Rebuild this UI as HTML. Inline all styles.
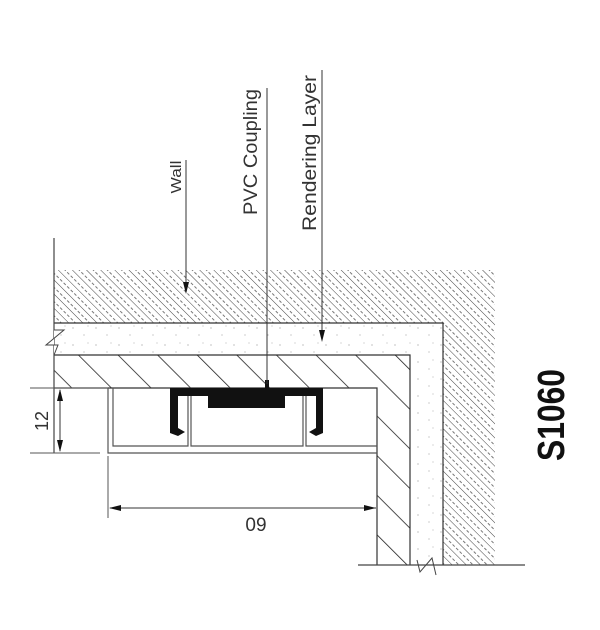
<!DOCTYPE html>
<html><head><style>
html,body{margin:0;padding:0;background:#fff;}
svg{display:block;}
text{font-family:"Liberation Sans",sans-serif;fill:#333;}
</style></head><body>
<svg width="600" height="630" viewBox="0 0 600 630" xmlns="http://www.w3.org/2000/svg">
<defs>
<pattern id="wall" patternUnits="userSpaceOnUse" width="10" height="10" patternTransform="rotate(-45)">
<line x1="0" y1="0" x2="0" y2="10" stroke="#444" stroke-width="1"/>
<line x1="5" y1="0" x2="5" y2="10" stroke="#777" stroke-width="1" stroke-dasharray="3,2"/>
</pattern>
<pattern id="tile" patternUnits="userSpaceOnUse" width="28" height="28" patternTransform="rotate(-45)">
<line x1="0" y1="0" x2="0" y2="28" stroke="#222" stroke-width="1.6"/>
</pattern>
<pattern id="dots" patternUnits="userSpaceOnUse" width="23" height="17">
<circle cx="4" cy="5" r="0.6" fill="#999"/><circle cx="15" cy="12" r="0.6" fill="#aaa"/><circle cx="19" cy="3" r="0.5" fill="#999"/>
</pattern>
</defs>
<path d="M54 270 H495 V565 H443 V323 H54 Z" fill="url(#wall)"/>
<path d="M54 323 H443 V565" fill="none" stroke="#333" stroke-width="1.2"/>
<path d="M54 323 H443 V565 H410 V355 H54 Z" fill="url(#dots)"/>
<path d="M54 355 H410 V565" fill="none" stroke="#333" stroke-width="1.2"/>
<path d="M54 355 H410 V565 H377 V388 H54 Z" fill="url(#tile)"/>
<path d="M54 388 H377 V565" fill="none" stroke="#333" stroke-width="1.2"/>
<line x1="54" y1="238" x2="54" y2="453" stroke="#444" stroke-width="1.2"/>
<polyline points="54,330 64,330 46,345 58,345 54,355" fill="#fff" stroke="#444" stroke-width="1"/>
<line x1="358" y1="565" x2="525" y2="565" stroke="#444" stroke-width="1.2"/>
<polyline points="417,560 420,572 432,558 436,575" fill="none" stroke="#444" stroke-width="1"/>
<path d="M108 388 V453 H377" fill="none" stroke="#555" stroke-width="1.2"/>
<path d="M113 388 V446 H188 V395 M191 395 V446 H303 V395 M306 395 V446 H377" fill="none" stroke="#555" stroke-width="1.2"/>
<path d="M170 388 H323 V433 L316 436 L309 432 L316 428 V396 H285 V408 H208 V396 H178 V428 L185 432 L178 436 L170 433 Z" fill="#111"/>
<rect x="265" y="380" width="4" height="9" fill="#111"/>
<line x1="30" y1="388" x2="108" y2="388" stroke="#555" stroke-width="1"/>
<line x1="30" y1="453" x2="100" y2="453" stroke="#555" stroke-width="1"/>
<line x1="60" y1="390" x2="60" y2="451" stroke="#333" stroke-width="1"/>
<polygon points="60,389 57,401 63,401" fill="#111"/>
<polygon points="60,452 57,440 63,440" fill="#111"/>
<text transform="translate(48,421) rotate(-90)" font-size="18" text-anchor="middle">12</text>
<line x1="108" y1="456" x2="108" y2="518" stroke="#555" stroke-width="1"/>
<line x1="110" y1="508" x2="376" y2="508" stroke="#333" stroke-width="1"/>
<polygon points="109,508 121,505 121,511" fill="#111"/>
<polygon points="376,508 364,505 364,511" fill="#111"/>
<text x="256" y="531" font-size="19" text-anchor="middle">09</text>
<text transform="translate(181,177) rotate(-90)" font-size="15" text-anchor="middle" textLength="33" lengthAdjust="spacingAndGlyphs">Wall</text>
<line x1="186" y1="160" x2="186" y2="290" stroke="#333" stroke-width="1"/>
<polygon points="186,294 183,282 189,282" fill="#111"/>
<text transform="translate(257,152) rotate(-90)" font-size="19" text-anchor="middle" textLength="126" lengthAdjust="spacingAndGlyphs">PVC Coupling</text>
<line x1="267" y1="88" x2="267" y2="384" stroke="#333" stroke-width="1"/>
<text transform="translate(316,153) rotate(-90)" font-size="19" text-anchor="middle" textLength="156" lengthAdjust="spacingAndGlyphs">Rendering Layer</text>
<line x1="322" y1="70" x2="322" y2="338" stroke="#333" stroke-width="1"/>
<polygon points="322,342 319,330 325,330" fill="#111"/>
<text transform="translate(564,415) rotate(-90)" font-size="38" font-weight="bold" text-anchor="middle" style="fill:#111" textLength="92" lengthAdjust="spacingAndGlyphs">S1060</text>
</svg>
</body></html>
